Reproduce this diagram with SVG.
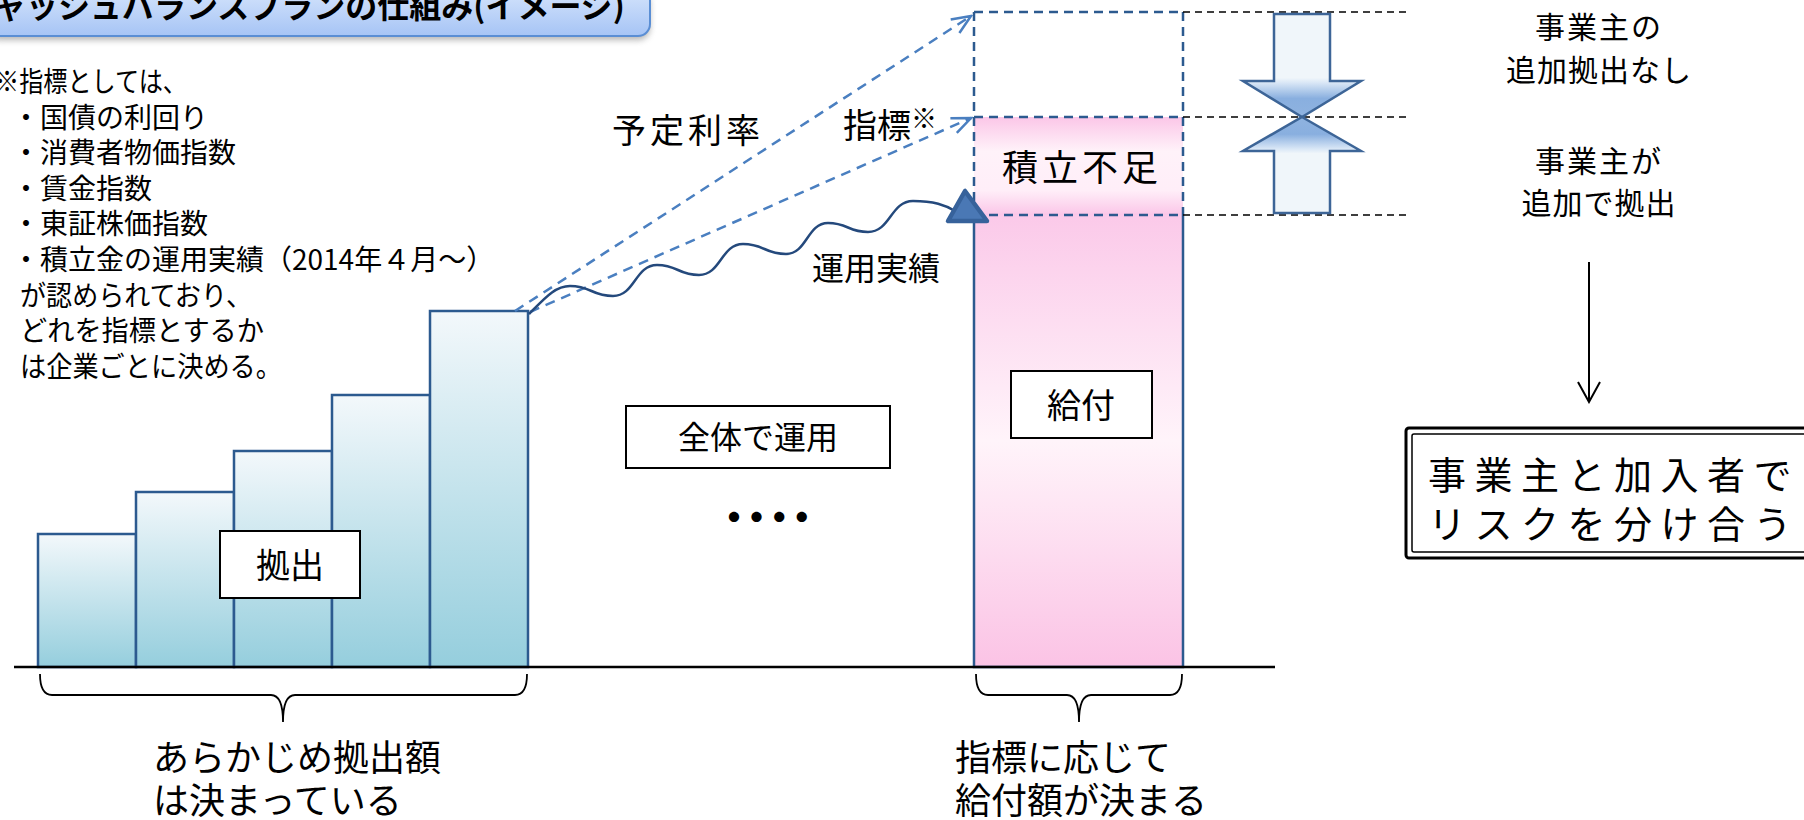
<svg xmlns="http://www.w3.org/2000/svg" width="1804" height="820" viewBox="0 0 1804 820">
<style>
text{font-family:"Noto Sans CJK JP","Noto Sans CJK SC",sans-serif;fill:#000}
.note{font-size:28px}
.bar{stroke:#2c5a8f;stroke-width:2.5;fill:url(#gBar)}
.lbl{fill:#fff;stroke:#000;stroke-width:2}
.bdash{fill:none;stroke:#2c5a8f;stroke-width:2.5;stroke-dasharray:9 6}
.kdash{fill:none;stroke:#000;stroke-width:1.6;stroke-dasharray:7 5}
.idx{fill:none;stroke:#4a7fc0;stroke-width:2.5;stroke-dasharray:10 7}
.brace{fill:none;stroke:#000;stroke-width:1.8}
.pinch{stroke:#3d6597;stroke-width:2.5;stroke-linejoin:miter}
</style>
<defs>
<linearGradient id="gTitle" x1="0" y1="0" x2="0" y2="1"><stop offset="0" stop-color="#d6e5fc"/><stop offset="1" stop-color="#a6c4f5"/></linearGradient>
<linearGradient id="gBar" x1="0" y1="0" x2="0" y2="1"><stop offset="0" stop-color="#f3f8fb"/><stop offset="1" stop-color="#95cedd"/></linearGradient>
<linearGradient id="gPink" x1="0" y1="0" x2="0" y2="1"><stop offset="0" stop-color="#fbc9e9"/><stop offset="0.5" stop-color="#fff4fa"/><stop offset="1" stop-color="#fbc3e5"/></linearGradient>
<linearGradient id="gShort" x1="0" y1="0" x2="0" y2="1"><stop offset="0" stop-color="#fbc6e8"/><stop offset="0.35" stop-color="#fff2f9"/><stop offset="0.75" stop-color="#ffeef8"/><stop offset="1" stop-color="#fbc6e8"/></linearGradient>
<linearGradient id="gDown" gradientUnits="userSpaceOnUse" x1="0" y1="14" x2="0" y2="117"><stop offset="0" stop-color="#f0f6fa"/><stop offset="0.62" stop-color="#f0f6fa"/><stop offset="0.67" stop-color="#d8e6f6"/><stop offset="0.82" stop-color="#89afdf"/><stop offset="1" stop-color="#8fb3e0"/></linearGradient>
<linearGradient id="gUp" gradientUnits="userSpaceOnUse" x1="0" y1="117" x2="0" y2="213"><stop offset="0" stop-color="#8fb3e0"/><stop offset="0.18" stop-color="#89afdf"/><stop offset="0.33" stop-color="#d8e6f6"/><stop offset="0.38" stop-color="#f0f6fa"/><stop offset="1" stop-color="#f0f6fa"/></linearGradient>
<filter id="shadow" x="-5%" y="-50%" width="110%" height="200%"><feGaussianBlur stdDeviation="3"/></filter>
<marker id="mIdx" viewBox="-22 -10 24 20" refX="0" refY="0" markerWidth="24" markerHeight="20" markerUnits="userSpaceOnUse" orient="auto"><path d="M-19,-8 L0,0 L-19,8" fill="none" stroke="#4a7fc0" stroke-width="2.5"/></marker>
<marker id="mDown" viewBox="-22 -12 24 24" refX="0" refY="0" markerWidth="24" markerHeight="24" markerUnits="userSpaceOnUse" orient="auto"><path d="M-20,-11 L0,0 L-20,11" fill="none" stroke="#000" stroke-width="2"/></marker>
</defs>
<rect width="1804" height="820" fill="#fff"/>

<g id="title">
<rect x="-12" y="-8" width="662" height="48" rx="12" fill="#777" opacity="0.55" filter="url(#shadow)"/>
<rect x="-12" y="-12" width="662" height="48" rx="12" fill="url(#gTitle)" stroke="#5a8ed4" stroke-width="2"/>
<text x="-38" y="18" font-size="32" font-weight="bold">キャッシュバランスプランの仕組み(イメージ)</text>
</g>

<g id="note">
<text class="note" x="-5" y="92" textLength="192" lengthAdjust="spacingAndGlyphs">※指標としては、</text>
<text class="note" x="12" y="127.5">・国債の利回り</text>
<text class="note" x="12" y="163">・消費者物価指数</text>
<text class="note" x="12" y="198.5">・賃金指数</text>
<text class="note" x="12" y="234">・東証株価指数</text>
<text class="note" x="12" y="270">・積立金の運用実績（2014年４月～）</text>
<text class="note" x="20" y="305.5" textLength="232" lengthAdjust="spacingAndGlyphs">が認められており、</text>
<text class="note" x="20" y="341" textLength="244" lengthAdjust="spacingAndGlyphs">どれを指標とするか</text>
<text class="note" x="20" y="376.5" textLength="262" lengthAdjust="spacingAndGlyphs">は企業ごとに決める。</text>
</g>

<g id="contrib-bars">
<rect class="bar" x="38" y="534" width="98" height="133"/>
<rect class="bar" x="136" y="492" width="98" height="175"/>
<rect class="bar" x="234" y="451" width="98" height="216"/>
<rect class="bar" x="332" y="395" width="98" height="272"/>
<rect class="bar" x="430" y="311" width="98" height="356"/>
</g>

<g id="contrib-label">
<rect class="lbl" x="220" y="531" width="140" height="67"/>
<text x="290" y="578" font-size="34" text-anchor="middle">拠出</text>
</g>

<g id="pool">
<rect class="lbl" x="626" y="406" width="264" height="62"/>
<text x="758" y="449" font-size="32" text-anchor="middle">全体で運用</text>
<text x="714" y="532" font-size="40" font-weight="bold" letter-spacing="-17.4">・・・・</text>
</g>

<g id="benefit-column">
<rect x="974" y="215" width="209" height="452" fill="url(#gPink)"/>
<path d="M974,215 V667 H1183 V215" fill="none" stroke="#2c5a8f" stroke-width="2.5"/>
<rect class="lbl" x="1011" y="371" width="141" height="67"/>
<text x="1081" y="418" font-size="34" text-anchor="middle">給付</text>
</g>

<g id="shortage">
<rect x="974" y="117" width="209" height="98" fill="url(#gShort)"/>
<path class="bdash" d="M974,12 H1183 M974,117 H1183 M974,215 H1183 M974,12 V215 M1183,12 V215"/>
<text x="1082" y="181" font-size="36" text-anchor="middle" letter-spacing="4">積立不足</text>
</g>

<g id="levels">
<path class="kdash" d="M1183,12 H1407 M1183,117 H1407 M1183,215 H1407"/>
</g>

<g id="pinch-arrows">
<polygon class="pinch" fill="url(#gDown)" points="1274,14 1330,14 1330,81 1361,81 1302,117 1243,81 1274,81"/>
<polygon class="pinch" fill="url(#gUp)" points="1302,117 1361,151 1330,151 1330,213 1274,213 1274,151 1243,151"/>
</g>

<g id="employer-text">
<text x="1599" y="38" font-size="30" text-anchor="middle" letter-spacing="2">事業主の</text>
<text x="1599" y="81" font-size="30" text-anchor="middle" letter-spacing="1">追加拠出なし</text>
<text x="1599" y="172" font-size="30" text-anchor="middle" letter-spacing="2">事業主が</text>
<text x="1599" y="214" font-size="30" text-anchor="middle" letter-spacing="1">追加で拠出</text>
</g>

<g id="risk-share">
<rect x="1406" y="428" width="420" height="130" rx="3" fill="#fff" stroke="#000" stroke-width="3"/>
<rect x="1412" y="434" width="410" height="118" rx="2" fill="none" stroke="#000" stroke-width="1.5"/>
<text x="1428" y="489" font-size="38" letter-spacing="8.5">事業主と加入者で</text>
<text x="1428" y="538" font-size="38" letter-spacing="8.5">リスクを分け合う</text>
</g>

<g id="labels">
<text x="612" y="143" font-size="34" letter-spacing="4">予定利率</text>
<text x="843" y="138" font-size="34">指標<tspan font-size="26" dy="-10">※</tspan></text>
<text x="812" y="280" font-size="32">運用実績</text>
</g>

<g id="axis">
<line x1="14" y1="667" x2="1275" y2="667" stroke="#000" stroke-width="2.5"/>
<path class="brace" d="M40,674 Q40,695 52,695 H271 Q283,695 283,722 Q283,695 295,695 H515 Q527,695 527,674"/>
<path class="brace" d="M976,674 Q976,695 988,695 H1067 Q1079,695 1079,722 Q1079,695 1091,695 H1170 Q1182,695 1182,674"/>
<text x="153" y="771" font-size="36">あらかじめ拠出額</text>
<text x="153" y="814" font-size="36">は決まっている</text>
<text x="955" y="771" font-size="36">指標に応じて</text>
<text x="955" y="814" font-size="36">給付額が決まる</text>
</g>

<g id="connectors">
<line class="idx" x1="515" y1="311" x2="971" y2="16" marker-end="url(#mIdx)"/>
<line class="idx" x1="530" y1="312" x2="971" y2="118" marker-end="url(#mIdx)"/>
<path d="M529,314 C545,298 555,286 570,286 C591.5,286 591.5,296 613,296 C635,296 635,265 657,265 C678,265 678,275 699,275 C721,275 721,244 743,244 C764.5,244 764.5,254 786,254 C807,254 807,223 828,223 C848,223 848,232 868,232 C890.5,232 890.5,201 913,201 C934,201 945,205 955,211" fill="none" stroke="#24497c" stroke-width="2.5"/>
<polygon points="965,191 948,221 987,221" fill="#4a78b5" stroke="#37629b" stroke-width="4.5" stroke-linejoin="round"/>
<line x1="1589" y1="262" x2="1589" y2="402" stroke="#000" stroke-width="2" marker-end="url(#mDown)"/>
</g>
</svg>
